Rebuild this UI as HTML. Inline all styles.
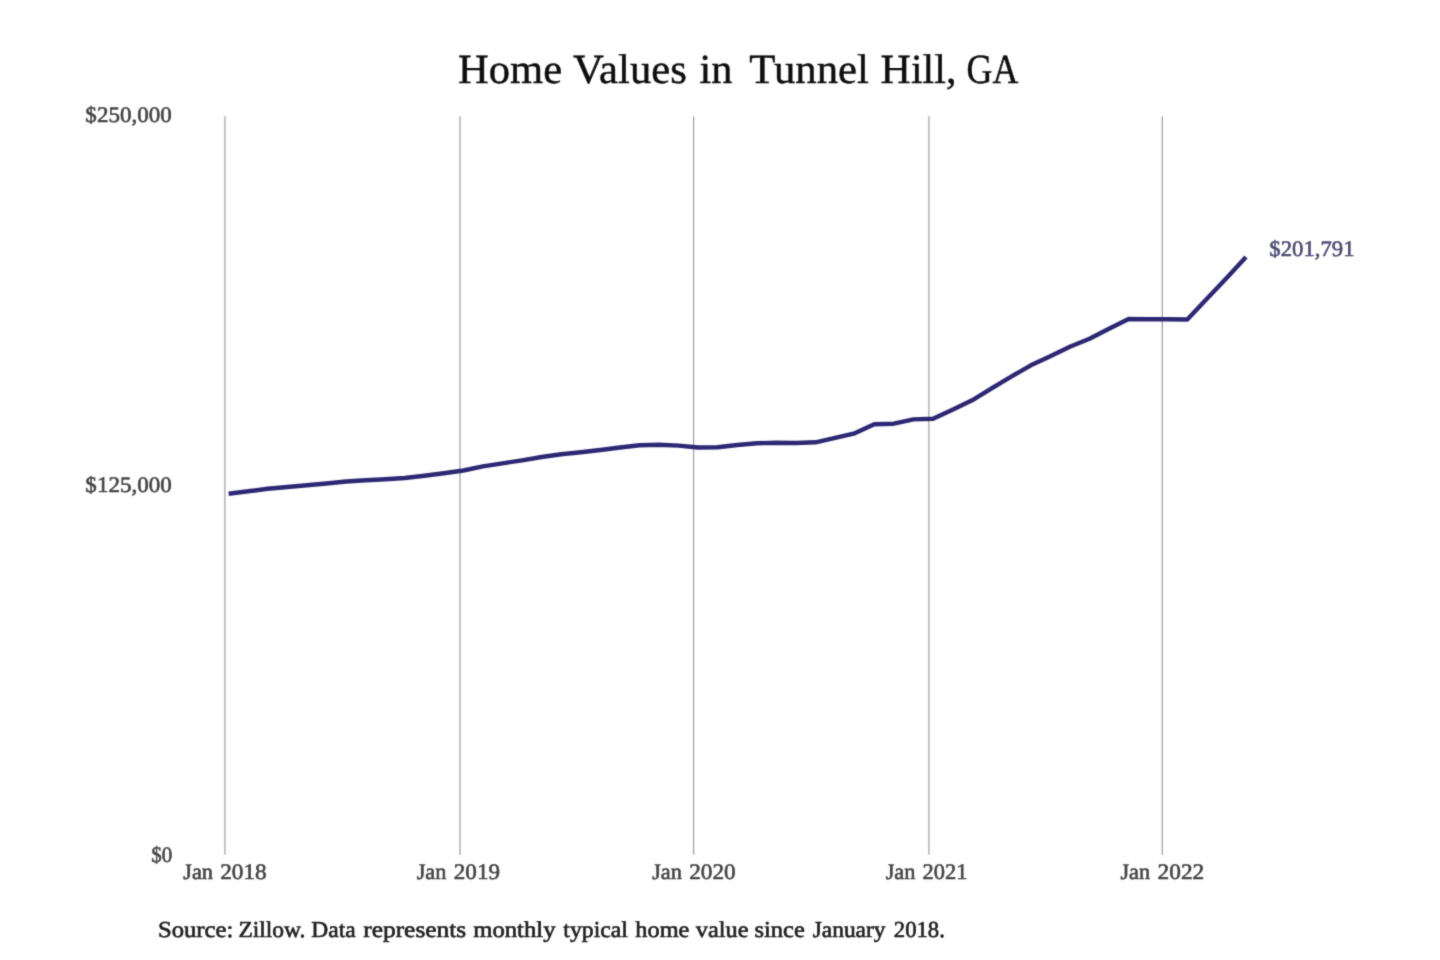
<!DOCTYPE html>
<html lang="en">
<head>
<meta charset="utf-8">
<title>Home Values in Tunnel Hill, GA</title>
<style>
html,body{margin:0;padding:0;background:#fff;}
body{width:1440px;height:960px;overflow:hidden;font-family:"Liberation Serif",serif;}
svg{display:block;}
svg text{font-family:"Liberation Serif",serif;stroke-linejoin:round;text-rendering:geometricPrecision;}
.title{font-size:41.5px;fill:#0e0e0e;stroke:#0e0e0e;stroke-width:0.45;}
.ax{font-size:22.2px;fill:#444444;stroke:#444444;stroke-width:0.6;}
.src{font-size:22.8px;fill:#202020;stroke:#202020;stroke-width:0.62;}
.val{font-size:22.2px;fill:#4d4c73;stroke:#4d4c73;stroke-width:0.6;}
.grid line{stroke:#a4a4a4;stroke-width:1.3;}
.series{fill:none;stroke:#2e2774;stroke-width:4.4;stroke-linejoin:round;stroke-linecap:butt;}
</style>
</head>
<body>
<svg width="1440" height="960" viewBox="0 0 1440 960">
<defs><filter id="soft" x="0" y="0" width="1440" height="960" filterUnits="userSpaceOnUse" color-interpolation-filters="sRGB"><feConvolveMatrix order="3" kernelMatrix="1 4 1 4 20 4 1 4 1" divisor="40" edgeMode="duplicate" preserveAlpha="true"/></filter></defs>
<g filter="url(#soft)">
<rect width="1440" height="960" fill="#ffffff"/>
<g class="grid">
<line x1="224.9" y1="116.2" x2="224.9" y2="854.7"/>
<line x1="460.0" y1="116.2" x2="460.0" y2="854.7"/>
<line x1="693.6" y1="116.2" x2="693.6" y2="854.7"/>
<line x1="928.9" y1="116.2" x2="928.9" y2="854.7"/>
<line x1="1162.3" y1="116.2" x2="1162.3" y2="854.7"/>
</g>
<polyline class="series" points="228.6,493.8 248.2,491.3 267.7,488.8 287.3,487.0 306.9,485.3 326.4,483.5 346.0,481.5 365.6,480.3 385.1,479.3 404.7,478.0 424.3,475.7 443.8,473.3 463.4,470.5 482.9,466.3 502.5,463.3 522.1,460.3 541.6,457.0 561.2,454.2 580.8,452.2 600.3,450.0 619.9,447.5 639.5,445.3 659.0,444.7 678.6,445.6 698.2,447.5 717.7,447.3 737.3,445.0 756.9,443.3 776.4,442.7 796.0,443.0 815.6,442.3 835.1,437.8 854.7,433.3 874.3,424.2 893.8,423.7 913.4,419.4 933.0,418.8 952.5,409.7 972.1,400.3 991.6,388.3 1011.2,376.7 1030.8,365.3 1050.3,356.2 1069.9,346.7 1089.5,338.7 1109.0,328.7 1128.6,319.0 1148.2,319.2 1167.7,319.3 1187.3,319.5 1206.9,298.8 1226.4,278.2 1246.0,257.0"/>
<text class="title" y="83"><tspan x="458.06" textLength="104.05" lengthAdjust="spacingAndGlyphs">Home</tspan> <tspan x="573.02" textLength="113.82" lengthAdjust="spacingAndGlyphs">Values</tspan> <tspan x="699.56" textLength="32.91" lengthAdjust="spacingAndGlyphs">in</tspan> <tspan x="749.36" textLength="119.44" lengthAdjust="spacingAndGlyphs">Tunnel</tspan> <tspan x="880.57" textLength="75.83" lengthAdjust="spacingAndGlyphs">Hill,</tspan> <tspan x="966.60" textLength="51.79" lengthAdjust="spacingAndGlyphs">GA</tspan></text>
<text class="ax" y="122.4"><tspan x="85.38" textLength="86.34" lengthAdjust="spacingAndGlyphs">$250,000</tspan></text>
<text class="ax" y="492.4"><tspan x="85.38" textLength="86.34" lengthAdjust="spacingAndGlyphs">$125,000</tspan></text>
<text class="ax" y="862.0"><tspan x="151.34" textLength="21.01" lengthAdjust="spacingAndGlyphs">$0</tspan></text>
<text class="ax" y="879"><tspan x="183.25" textLength="29.75" lengthAdjust="spacingAndGlyphs">Jan</tspan> <tspan x="220.28" textLength="46.40" lengthAdjust="spacingAndGlyphs">2018</tspan></text>
<text class="ax" y="879"><tspan x="416.65" textLength="29.75" lengthAdjust="spacingAndGlyphs">Jan</tspan> <tspan x="453.78" textLength="46.25" lengthAdjust="spacingAndGlyphs">2019</tspan></text>
<text class="ax" y="879"><tspan x="652.15" textLength="29.75" lengthAdjust="spacingAndGlyphs">Jan</tspan> <tspan x="689.17" textLength="46.50" lengthAdjust="spacingAndGlyphs">2020</tspan></text>
<text class="ax" y="879"><tspan x="885.65" textLength="29.75" lengthAdjust="spacingAndGlyphs">Jan</tspan> <tspan x="922.60" textLength="44.90" lengthAdjust="spacingAndGlyphs">2021</tspan></text>
<text class="ax" y="879"><tspan x="1120.45" textLength="29.75" lengthAdjust="spacingAndGlyphs">Jan</tspan> <tspan x="1157.57" textLength="46.73" lengthAdjust="spacingAndGlyphs">2022</tspan></text>
<text class="val" y="256"><tspan x="1269.39" textLength="85.12" lengthAdjust="spacingAndGlyphs">$201,791</tspan></text>
<text class="src" y="937.3"><tspan x="157.97" textLength="75.26" lengthAdjust="spacingAndGlyphs">Source:</tspan> <tspan x="238.41" textLength="66.95" lengthAdjust="spacingAndGlyphs">Zillow.</tspan> <tspan x="311.24" textLength="44.40" lengthAdjust="spacingAndGlyphs">Data</tspan> <tspan x="363.21" textLength="103.03" lengthAdjust="spacingAndGlyphs">represents</tspan> <tspan x="473.22" textLength="82.27" lengthAdjust="spacingAndGlyphs">monthly</tspan> <tspan x="563.31" textLength="64.67" lengthAdjust="spacingAndGlyphs">typical</tspan> <tspan x="635.31" textLength="54.12" lengthAdjust="spacingAndGlyphs">home</tspan> <tspan x="695.81" textLength="52.71" lengthAdjust="spacingAndGlyphs">value</tspan> <tspan x="754.55" textLength="50.18" lengthAdjust="spacingAndGlyphs">since</tspan> <tspan x="812.74" textLength="72.75" lengthAdjust="spacingAndGlyphs">January</tspan> <tspan x="893.80" textLength="51.11" lengthAdjust="spacingAndGlyphs">2018.</tspan></text>
</g>
</svg>
</body>
</html>
